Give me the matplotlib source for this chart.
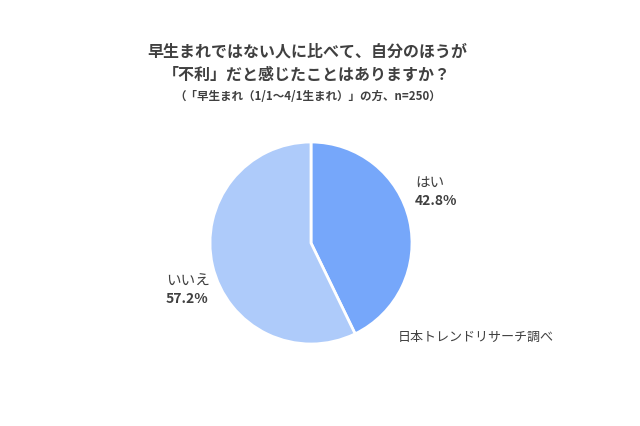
import matplotlib
matplotlib.use('Agg')
import matplotlib.pyplot as plt

plt.rcParams['font.family'] = ['Noto Sans CJK JP', 'DejaVu Sans']

# data
labels = ['はい', 'いいえ']
values = [42.8, 57.2]
colors = ['#76a7fa', '#aecbfa']

title1 = '早生まれではない人に比べて、自分のほうが'
title2 = '「不利」だと感じたことはありますか？'
title3 = '（「早生まれ（1/1～4/1生まれ）」の方、n=250）'
source = '日本トレンドリサーチ調べ'

W, H = 640, 426
fig = plt.figure(figsize=(6.4, 4.26), dpi=100)
fig.patch.set_facecolor('white')

cx, cy, r = 311, 243, 101
ax = fig.add_axes([(cx - r) / W, (H - cy - r) / H, 2 * r / W, 2 * r / H])
ax.pie(values, colors=colors, startangle=90, counterclock=False,
       radius=1.0, wedgeprops=dict(edgecolor='white', linewidth=2))
ax.set_xlim(-1, 1)
ax.set_ylim(-1, 1)
ax.set_aspect('equal')
ax.axis('off')

fig.text(307 / W, 1 - 52 / H, title1, ha='center', va='center',
         fontsize=11.5, fontweight='bold', color='#404040')
fig.text(307 / W, 1 - 75 / H, title2, ha='center', va='center',
         fontsize=11.5, fontweight='bold', color='#404040')
fig.text(308 / W, 1 - 97 / H, title3, ha='center', va='center',
         fontsize=8.3, fontweight='bold', color='#404040')

# slice labels
fig.text(415 / W, 1 - 183 / H, labels[0], ha='left', va='center',
         fontsize=10.5, color='#404040')
fig.text(415 / W, 1 - 201 / H, f'{values[0]}%', ha='left', va='center',
         fontsize=10, fontweight='bold', color='#404040')
fig.text(166 / W, 1 - 282 / H, labels[1], ha='left', va='center',
         fontsize=10.5, color='#404040')
fig.text(166 / W, 1 - 299 / H, f'{values[1]}%', ha='left', va='center',
         fontsize=10, fontweight='bold', color='#404040')

fig.text(398 / W, 1 - 337 / H, source, ha='left', va='center',
         fontsize=9.4, color='#404040')

fig.savefig('out.png', dpi=100, facecolor='white')
